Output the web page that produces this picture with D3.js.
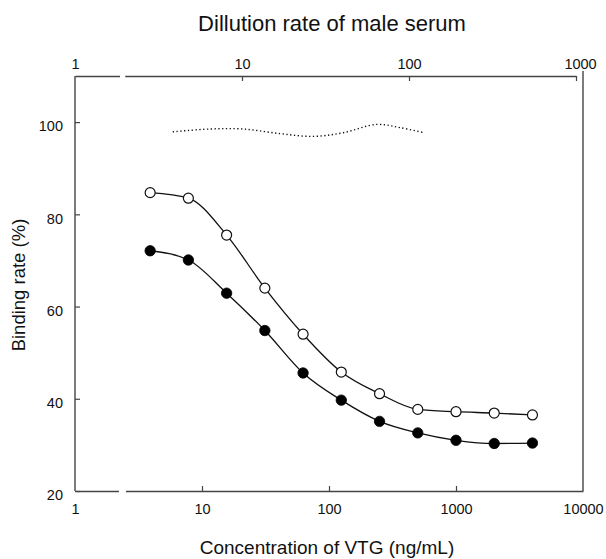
<!DOCTYPE html>
<html>
<head>
<meta charset="utf-8">
<script src="https://cdn.jsdelivr.net/npm/d3@7"></script>
<style>
  html, body { margin: 0; padding: 0; background: #fff; }
  svg { display: block; font-family: "Liberation Sans", Arial, sans-serif; }
</style>
</head>
<body>
<svg id="chart" width="606" height="559"></svg>
<script>
// ---- data ----
const concentrations = [3.90625, 7.8125, 15.625, 31.25, 62.5, 125, 250, 500, 1000, 2000, 4000];
const openValues   = [84.7, 83.5, 75.5, 64.0, 54.0, 45.8, 41.1, 37.7, 37.2, 36.9, 36.5];
const filledValues = [72.1, 70.1, 62.9, 54.8, 45.6, 39.7, 35.1, 32.6, 31.0, 30.3, 30.4];
const dilutions     = [3.85, 6.4, 10.2, 16.9, 26.7, 40.4, 64.1, 88.3, 123];
const dilutionValues = [97.9, 98.5, 98.5, 97.5, 96.9, 97.7, 99.5, 98.8, 97.7];
const bottomTicks = [1, 10, 100, 1000, 10000];
const topTicks = [1, 10, 100, 1000];
const yTicks = [20, 40, 60, 80, 100];
const titleTop = "Dillution rate of male serum";
const titleX = "Concentration of VTG (ng/mL)";
const titleY = "Binding rate (%)";

(function () {
// ---- layout ----
const svg = d3.select("#chart");
const pLeft = 75, pRight = 583, pTop = 76, pBottom = 491;
const axisColor = "#444";

const x = d3.scaleLog().domain([1, 10000]).range([pLeft, pRight]);
const xTop = d3.scaleLog().domain([1, 1000]).range([pLeft, 576]);
const y = d3.scaleLinear().domain([20, 110]).range([pBottom, pTop]);

// bottom axis
const gB = svg.append("g").attr("transform", `translate(0,${pBottom})`)
  .call(d3.axisBottom(x).tickValues(bottomTicks).tickFormat(d3.format("d"))
    .tickSizeInner(-5).tickSizeOuter(0).tickPadding(13));
// top axis
const gT = svg.append("g").attr("transform", `translate(0,${pTop})`)
  .call(d3.axisTop(xTop).tickValues(topTicks).tickFormat(d3.format("d"))
    .tickSizeInner(-5).tickSizeOuter(0).tickPadding(7));
// left axis
const gL = svg.append("g").attr("transform", `translate(${pLeft},0)`)
  .call(d3.axisLeft(y).tickValues(yTicks).tickFormat(d3.format("d"))
    .tickSizeInner(-5).tickSizeOuter(0).tickPadding(12));
gL.select(".domain").attr("d", `M0,${y(110)}V${pBottom}`);

[gB, gT, gL].forEach(g => {
  g.select(".domain").attr("stroke", axisColor).attr("stroke-width", 1.4);
  g.selectAll(".tick line").attr("stroke", axisColor).attr("stroke-width", 1.2);
  g.selectAll(".tick text").attr("fill", "#111").attr("font-size", 14.5)
    .attr("font-family", "Liberation Sans, Arial, sans-serif");
});
gL.selectAll(".tick text").attr("dy", "0.6em");
gB.selectAll(".tick").filter(d => d === 1 || d === 10000).select("line").remove();
gT.selectAll(".tick").filter(d => d === 1).select("line").remove();
gT.selectAll(".tick").filter(d => d === 1000).select("text").attr("x", 4);

// right frame line
svg.append("line")
  .attr("x1", pRight).attr("x2", pRight)
  .attr("y1", y(110) - 5).attr("y2", pBottom)
  .attr("stroke", axisColor).attr("stroke-width", 1.4);

// small breaks in the horizontal frame lines (as in the scan)
svg.append("rect").attr("x", x(2.22)).attr("y", pBottom - 2)
  .attr("width", x(2.52) - x(2.22)).attr("height", 4).attr("fill", "#fff");
svg.append("rect").attr("x", xTop(1.86)).attr("y", pTop - 2)
  .attr("width", xTop(2.0) - xTop(1.86)).attr("height", 4).attr("fill", "#fff");

// dotted dilution curve (top axis)
const dotLine = d3.line().curve(d3.curveCatmullRom.alpha(0.5))
  .x((d, i) => xTop(dilutions[i])).y(d => y(d));
svg.append("path").attr("d", dotLine(dilutionValues))
  .attr("fill", "none").attr("stroke", "#111").attr("stroke-width", 1.4)
  .attr("stroke-dasharray", "1.3,2.5");

// series curves
const line = d3.line().curve(d3.curveMonotoneX)
  .x((d, i) => x(concentrations[i])).y(d => y(d));
[openValues, filledValues].forEach(vals => {
  svg.append("path").attr("d", line(vals))
    .attr("fill", "none").attr("stroke", "#111").attr("stroke-width", 1.3);
});

svg.append("g").selectAll("circle").data(openValues).join("circle")
  .attr("cx", (d, i) => x(concentrations[i])).attr("cy", d => y(d)).attr("r", 5)
  .attr("fill", "#fff").attr("stroke", "#111").attr("stroke-width", 1.2);
svg.append("g").selectAll("circle").data(filledValues).join("circle")
  .attr("cx", (d, i) => x(concentrations[i])).attr("cy", d => y(d)).attr("r", 5.2)
  .attr("fill", "#000").attr("stroke", "#000").attr("stroke-width", 0.8);

// titles
svg.append("text").attr("x", 332).attr("y", 31).attr("text-anchor", "middle")
  .attr("font-size", 22).attr("fill", "#111").text(titleTop);
svg.append("text").attr("x", 327).attr("y", 554).attr("text-anchor", "middle")
  .attr("font-size", 19).attr("fill", "#111").text(titleX);
svg.append("text").attr("transform", "translate(25,285) rotate(-90)")
  .attr("text-anchor", "middle").attr("font-size", 18.5).attr("fill", "#111").text(titleY);
})();
</script>
</body>
</html>
